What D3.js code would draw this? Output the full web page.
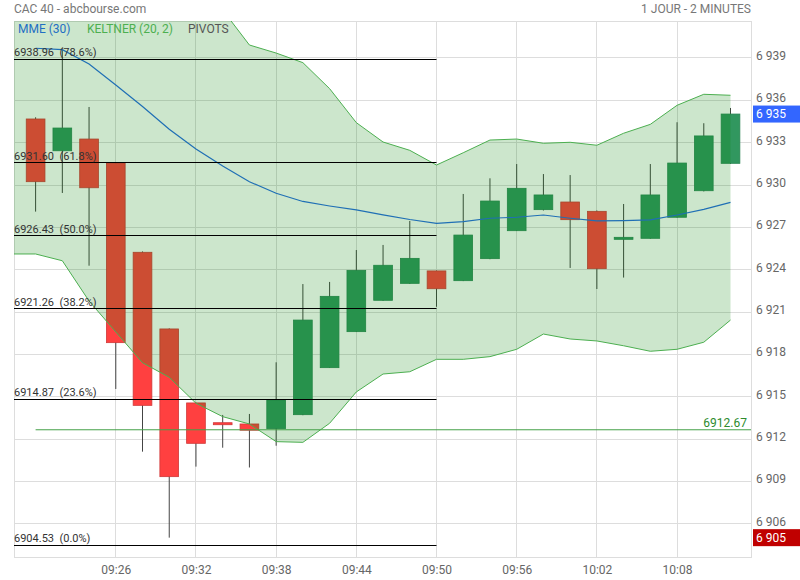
<!DOCTYPE html>
<html>
<head>
<meta charset="utf-8">
<script src="https://cdn.jsdelivr.net/npm/d3@7"></script>
<style>
body { margin: 0; background: #fff; }
svg { display: block; font-family: Roboto, "Noto Sans", sans-serif; }
</style>
</head>
<body>
<svg id="chart" width="800" height="580"></svg>
<script>
// bougies 2 minutes
var times = ["09:20","09:22","09:24","09:26","09:28","09:30","09:32","09:34","09:36","09:38","09:40","09:42","09:44","09:46",
	"09:48","09:50","09:52","09:54","09:56","09:58","10:00","10:02","10:04","10:06","10:08","10:10","10:12"];
var open  = [6934.68,6932.43,6933.26,6931.56,6925.24,6919.81,6914.57,6913.17,6913.08,6912.75,6913.74,6917.07,6919.62,6921.84,
	6923.04,6923.92,6923.23,6924.79,6926.77,6928.26,6928.80,6928.14,6926.16,6926.23,6927.72,6929.60,6931.54];
var high  = [6934.80,6939.69,6935.53,6931.60,6925.30,6919.85,6914.60,6913.72,6913.79,6917.45,6922.99,6923.14,6925.40,6925.76,
	6927.46,6923.95,6929.37,6930.48,6931.49,6930.78,6930.71,6928.20,6928.66,6931.49,6934.45,6934.38,6935.46];
var low   = [6928.12,6929.44,6924.29,6915.56,6911.12,6905.03,6910.06,6911.40,6910.00,6911.54,6913.70,6917.05,6919.60,6921.80,
	6923.00,6921.38,6923.20,6924.75,6926.75,6928.20,6924.13,6922.64,6923.45,6926.20,6927.70,6929.55,6931.50];
var close = [6930.24,6934.04,6929.81,6918.84,6914.40,6909.35,6911.71,6913.03,6912.64,6914.78,6920.44,6922.12,6923.96,6924.32,
	6924.81,6922.66,6926.46,6928.87,6929.77,6929.30,6927.55,6924.08,6926.30,6929.30,6931.56,6933.48,6935.03];

// MME (30)
var mme = [6939.69,6939.59,6938.58,6937.09,6935.57,6933.95,6932.56,6931.35,6930.24,6929.42,6928.84,6928.52,6928.24,6927.89,
	6927.56,6927.29,6927.41,6927.65,6927.72,6927.88,6927.65,6927.46,6927.48,6927.53,6927.88,6928.28,6928.78];

// Keltner (20, 2) - commence une bougie avant
var keltnerTimes = ["09:18"].concat(times);
var keltnerUp = [6946.0,6946.0,6946.3,6946.2,6945.9,6945.4,6944.8,6943.9,6942.4,6939.92,6939.35,6938.67,6936.83,6934.42,6933.05,
	6932.46,6931.42,6932.29,6933.19,6933.26,6932.96,6933.03,6932.82,6933.67,6934.30,6935.65,6936.43,6936.36];
var keltnerDown = [6925.12,6925.12,6924.64,6921.79,6919.60,6917.42,6916.39,6914.55,6913.60,6913.08,6911.83,6911.78,6913.13,6915.35,6916.62,
	6916.78,6917.66,6917.66,6917.85,6918.37,6919.45,6919.10,6918.96,6918.62,6918.23,6918.37,6918.87,6920.44];

// pivots
var pivotValues = [6938.96, 6931.60, 6926.43, 6921.26, 6914.87, 6904.53];
var pivotPct = ["78.6%", "61.8%", "50.0%", "38.2%", "23.6%", "0.0%"];
var pivotEnd = "09:50";
var refLevel = 6912.67;

var yTicks = [6906, 6909, 6912, 6915, 6918, 6921, 6924, 6927, 6930, 6933, 6936, 6939];
var xTicks = ["09:26", "09:32", "09:38", "09:44", "09:50", "09:56", "10:02", "10:08"];

// ---------------------------------------------------------------
function drawChart() {
	"use strict";
	var parse = d3.timeParse("%H:%M:%S");
	var t = function(s) { return parse(s.length === 5 ? s + ":00" : s); };

	var svg = d3.select("#chart");
	var pLeft = 14, pRight = 751, pTop = 21, pBottom = 557;

	var x = d3.scaleTime()
		.domain([t("09:18:23"), t("10:13:32")])
		.range([pLeft, pRight]);
	var y = d3.scaleLinear()
		.domain([6903.66, 6941.62])
		.range([pBottom, pTop]);

	var fr = d3.formatLocale({decimal: ",", thousands: " ", grouping: [3], currency: ["", " €"]});
	var fmt = fr.format(",d");

	var candles = times.map(function(s, i) {
		return {t: t(s), o: open[i], h: high[i], l: low[i], c: close[i]};
	});
	var step = x(t("09:22")) - x(t("09:20"));
	var bodyW = step * 0.7;

	svg.append("defs").append("clipPath").attr("id", "plotClip")
		.append("rect").attr("x", pLeft).attr("y", pTop).attr("width", pRight - pLeft).attr("height", pBottom - pTop);

	// titre
	svg.append("text").attr("x", 14).attr("y", 13).attr("fill", "#777").style("font-size", "12px")
		.text("CAC 40 - abcbourse.com");
	svg.append("text").attr("x", 751).attr("y", 13).attr("fill", "#777").style("font-size", "12px")
		.attr("text-anchor", "end").text("1 JOUR - 2 MINUTES");

	// grille
	var grid = svg.append("g").attr("shape-rendering", "crispEdges");
	grid.selectAll("line.gy").data(yTicks).enter().append("line")
		.attr("x1", pLeft).attr("x2", pRight)
		.attr("y1", function(d) { return y(d); }).attr("y2", function(d) { return y(d); })
		.attr("stroke", "#ddd");
	grid.selectAll("line.gx").data(xTicks).enter().append("line")
		.attr("y1", pTop).attr("y2", pBottom)
		.attr("x1", function(d) { return x(t(d)); }).attr("x2", function(d) { return x(t(d)); })
		.attr("stroke", "#ddd");
	grid.append("rect").attr("x", pLeft).attr("y", pTop).attr("width", pRight - pLeft).attr("height", pBottom - pTop)
		.attr("fill", "none").attr("stroke", "#ddd");

	var plot = svg.append("g").attr("clip-path", "url(#plotClip)");

	// bougies
	plot.selectAll("line.wick").data(candles).enter().append("line")
		.attr("x1", function(d) { return x(d.t); }).attr("x2", function(d) { return x(d.t); })
		.attr("y1", function(d) { return y(d.h); }).attr("y2", function(d) { return y(d.l); })
		.attr("stroke", "#444").attr("stroke-width", 1);
	plot.selectAll("rect.body").data(candles).enter().append("rect")
		.attr("x", function(d) { return x(d.t) - bodyW / 2; })
		.attr("width", bodyW)
		.attr("y", function(d) { return y(Math.max(d.o, d.c)); })
		.attr("height", function(d) { return Math.max(2, Math.abs(y(d.o) - y(d.c))); })
		.attr("fill", function(d) { return d.c >= d.o ? "#31975f" : "#ff4040"; })
		.attr("stroke", function(d) { return d.c >= d.o ? "#2a8654" : "#d03838"; })
		.attr("stroke-width", 0.8);

	// Keltner
	var band = keltnerTimes.map(function(s, i) { return {t: t(s), up: keltnerUp[i], dn: keltnerDown[i]}; });
	plot.append("path").datum(band)
		.attr("d", d3.area().x(function(d) { return x(d.t); })
			.y0(function(d) { return y(d.dn); }).y1(function(d) { return y(d.up); }))
		.attr("fill", "green").attr("fill-opacity", 0.2);
	["up", "dn"].forEach(function(k) {
		plot.append("path").datum(band)
			.attr("d", d3.line().x(function(d) { return x(d.t); }).y(function(d) { return y(d[k]); }))
			.attr("fill", "none").attr("stroke", "#4caf50").attr("stroke-width", 1);
	});

	// MME
	plot.append("path").datum(candles.map(function(d, i) { return {t: d.t, v: mme[i]}; }))
		.attr("d", d3.line().x(function(d) { return x(d.t); }).y(function(d) { return y(d.v); }))
		.attr("fill", "none").attr("stroke", "#1f6fb5").attr("stroke-width", 1.2);

	// pivots
	var piv = svg.append("g");
	piv.selectAll("line").data(pivotValues).enter().append("line")
		.attr("x1", pLeft).attr("x2", x(t(pivotEnd)))
		.attr("y1", function(d) { return Math.round(y(d)) + 0.5; }).attr("y2", function(d) { return Math.round(y(d)) + 0.5; })
		.attr("stroke", "#000").attr("stroke-width", 1);
	piv.selectAll("text").data(pivotValues).enter().append("text")
		.attr("x", pLeft).attr("y", function(d) { return y(d) - 2.5; })
		.attr("fill", "#333").style("font-size", "11px").style("white-space", "pre")
		.text(function(d, i) { return d.toFixed(2) + "  (" + pivotPct[i] + ")"; });

	// niveau de référence
	svg.append("line")
		.attr("x1", x(t(times[0]))).attr("x2", pRight)
		.attr("y1", y(refLevel)).attr("y2", y(refLevel))
		.attr("stroke", "#43a047").attr("stroke-width", 1);
	svg.append("text").attr("x", 747).attr("y", y(refLevel) - 3).attr("text-anchor", "end")
		.attr("fill", "#2e8b2e").style("font-size", "12px").text(refLevel.toFixed(2));

	// légende
	var legend = [["MME (30)", "#1f6fc4", 18], ["KELTNER (20, 2)", "#4caf50", 87], ["PIVOTS", "#555", 188]];
	svg.selectAll("text.leg").data(legend).enter().append("text")
		.attr("x", function(d) { return d[2]; }).attr("y", 32.5)
		.attr("fill", function(d) { return d[1]; }).style("font-size", "12px")
		.text(function(d) { return d[0]; });

	// axes
	var yAxis = svg.append("g").attr("transform", "translate(" + pRight + ",0)")
		.call(d3.axisRight(y).tickValues(yTicks).tickSize(0).tickPadding(5).tickFormat(fmt));
	yAxis.select(".domain").remove();
	yAxis.selectAll("text").attr("fill", "#666").attr("dy", "0.11em").style("font-size", "12px")
		.style("font-family", "Roboto, sans-serif");

	var xAxis = svg.append("g").attr("transform", "translate(0," + pBottom + ")")
		.call(d3.axisBottom(x).tickValues(xTicks.map(function(s) { return t(s); })).tickSize(0).tickPadding(8)
			.tickFormat(d3.timeFormat("%H:%M")));
	xAxis.select(".domain").remove();
	xAxis.selectAll("text").attr("fill", "#666").style("font-size", "12px").style("font-family", "Roboto, sans-serif");

	// étiquettes de prix
	var lastClose = close[close.length - 1];
	var minLow = d3.min(low);
	[[lastClose, "#3366ff"], [minLow, "#c00000"]].forEach(function(p) {
		svg.append("rect").attr("x", 753).attr("width", 47)
			.attr("y", y(p[0]) - 8.5).attr("height", 17).attr("fill", p[1]);
		svg.append("text").attr("x", 756).attr("y", y(p[0]) + 4.3)
			.attr("fill", "#fff").style("font-size", "12px").text(fmt(Math.round(p[0])));
	});
}
drawChart();
</script>
</body>
</html>
